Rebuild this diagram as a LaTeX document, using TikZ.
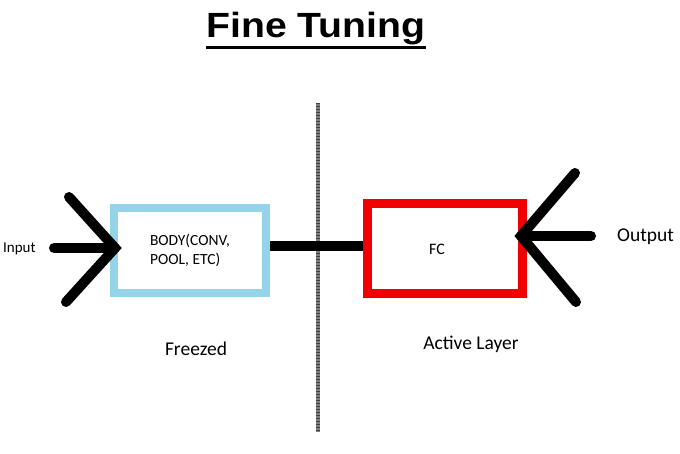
\documentclass[tikz,border=0pt]{standalone}
\usepackage{fontspec}
\usepackage{graphicx}
\usetikzlibrary{calc}
\setmainfont{Carlito}
\newfontfamily\titlefont{Liberation Sans}
\definecolor{frozenblue}{RGB}{148,211,234}
\definecolor{activered}{RGB}{240,0,0}
\begin{document}
\begin{tikzpicture}[x=1pt,y=-1pt,
  stroke/.style={line width=10pt,line cap=round,black},
  lbl/.style={inner sep=0pt,font=\fontsize{15}{17}\selectfont},
  biglbl/.style={inner sep=0pt,font=\fontsize{19.5}{22}\selectfont},
  boxfrozen/.style={draw=frozenblue,line width=8pt,minimum width=152pt,minimum height=85pt,inner sep=0pt},
  boxactive/.style={draw=activered,line width=9pt,minimum width=155pt,minimum height=90pt,inner sep=0pt}]
\useasboundingbox (0,0) rectangle (680,453);
% title
\node[inner sep=0pt,anchor=base] (title) at (316,37) {\titlefont\bfseries\fontsize{35}{40}\selectfont\scalebox{1.12}[1]{Fine Tuning}};
\draw[line width=3pt] ($(title.base west)+(0,10.5)$) coordinate (ul1) -- ($(title.base east)+(0,10.5)$) coordinate (ul2);
% separator
\coordinate (septop) at (318,103);
\coordinate (sepbot) at (318,432);
\draw[line width=4.5pt,black!50] (septop) -- (sepbot);
\draw[line width=4.5pt,black!75,dash pattern=on 1.2pt off 1.8pt] (septop) -- (sepbot);
% boxes
\node[boxfrozen,align=left,font=\fontsize{15.5}{19}\selectfont] (body) at (190,250.5) {BODY(CONV,\\POOL, ETC)};
\node[boxactive] (fc) at (444.5,248) {};
\node[lbl,font=\fontsize{16}{18}\selectfont] (fctext) at (437,249) {FC};
% connector
\coordinate (cy) at (0,246);
\draw[stroke,line cap=butt] (body.east |- cy) -- (fc.west |- cy);
% input arrow
\coordinate (intip) at (115,248);
\coordinate (inleft) at (54,248);
\coordinate (inup) at (69,197);
\coordinate (indown) at (66,302);
\draw[stroke] (inleft) -- (intip);
\draw[stroke] (inup) -- (intip) -- (indown);
% output arrow
\coordinate (outtip) at (521,236);
\coordinate (outright) at (591,236);
\coordinate (outup) at (575,173);
\coordinate (outdown) at (576,302);
\draw[stroke] (outright) -- (outtip);
\draw[stroke] (outup) -- (outtip) -- (outdown);
% labels
\node[lbl,anchor=west] (input) at (3,249) {Input};
\node[biglbl,anchor=west] (output) at (617,237) {Output};
\node[biglbl] (freezed) at (196,349) {Freezed};
\node[biglbl] (active) at (471,344) {Active Layer};
\end{tikzpicture}
\end{document}
